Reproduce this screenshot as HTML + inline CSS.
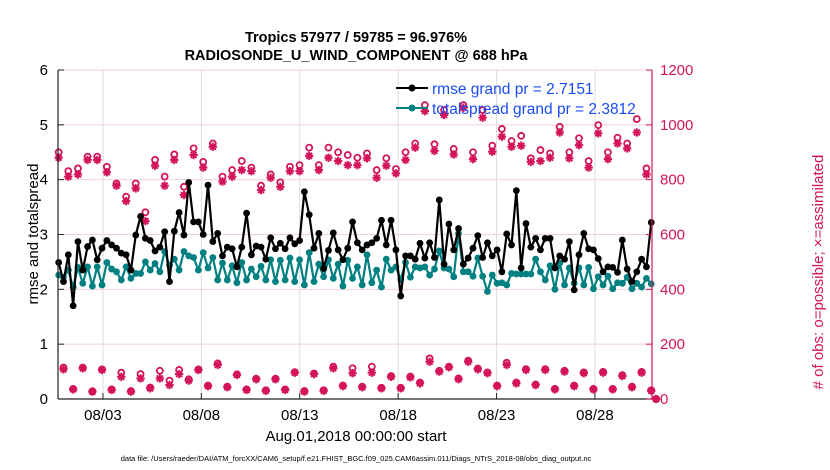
<!DOCTYPE html>
<html><head><meta charset="utf-8"><style>
html,body{margin:0;padding:0;background:#fff;}
svg{display:block;font-family:"Liberation Sans",sans-serif;}
</style></head><body>
<svg id="chart" width="830" height="470" viewBox="0 0 830 470" xmlns="http://www.w3.org/2000/svg">
<rect width="830" height="470" fill="#fff"/>
<text x="356" y="42" text-anchor="middle" font-size="14.5" font-weight="bold">Tropics 57977 / 59785 = 96.976%</text>
<text x="356" y="60" text-anchor="middle" font-size="14.5" font-weight="bold">RADIOSONDE_U_WIND_COMPONENT @ 688 hPa</text>
<g id="grid"></g>
<g id="obs"></g>
<g id="lines"></g>
<g id="axes"></g>
<g>
<line x1="396" y1="88" x2="428" y2="88" stroke="#000" stroke-width="2"/><circle cx="412" cy="88" r="3.5" fill="#000"/>
<text x="432" y="94" font-size="15.5" fill="#1a4cf5">rmse grand pr = 2.7151</text>
<line x1="396" y1="108" x2="428" y2="108" stroke="#008080" stroke-width="2"/><circle cx="412" cy="108" r="3.5" fill="#008080"/>
<text x="432" y="114" font-size="15.5" fill="#1a4cf5">totalspread grand pr = 2.3812</text>
</g>
<text transform="translate(38,234) rotate(-90)" text-anchor="middle" font-size="15">rmse and totalspread</text>
<text transform="translate(823,272) rotate(-90)" text-anchor="middle" font-size="15" fill="#d4145a"># of obs: o=possible; ×=assimilated</text>
<text x="356" y="441" text-anchor="middle" font-size="15">Aug.01,2018 00:00:00 start</text>
<text x="356" y="461" text-anchor="middle" font-size="7.5">data file: /Users/raeder/DAI/ATM_forcXX/CAM6_setup/f.e21.FHIST_BGC.f09_025.CAM6assim.011/Diags_NTrS_2018-08/obs_diag_output.nc</text>
</svg>
<script>
const rmse=[2.49,2.14,2.63,1.70,2.87,2.35,2.78,2.90,2.54,2.75,2.89,2.81,2.75,2.66,2.63,2.35,2.99,3.33,2.93,2.89,2.70,2.77,3.05,2.14,3.06,3.40,2.99,3.95,3.23,3.23,3.00,3.90,
2.87,3.02,2.61,2.77,2.74,2.41,2.77,3.39,2.63,2.79,2.77,2.55,2.94,2.74,2.84,2.74,2.94,2.83,2.89,3.78,3.36,2.75,3.02,2.38,2.71,3.03,2.72,2.54,2.75,3.23,
2.85,2.72,2.81,2.85,2.93,3.26,2.81,3.26,2.72,1.88,2.61,2.61,2.55,2.84,2.57,2.85,2.58,3.63,2.46,3.19,2.72,3.11,2.46,2.57,2.75,2.98,2.58,2.85,2.61,2.72,
2.32,3.01,2.81,3.80,2.39,3.20,2.77,2.93,2.72,2.93,2.93,2.39,2.61,2.55,2.87,1.99,2.63,3.02,2.74,2.72,2.56,2.32,2.41,2.40,2.31,2.90,2.37,2.14,2.32,2.55,2.41,3.22];
const spread=[2.26,2.22,2.35,2.04,2.40,2.11,2.41,2.06,2.41,2.08,2.49,2.37,2.32,2.17,2.41,2.20,2.29,2.29,2.50,2.35,2.47,2.32,2.69,2.44,2.55,2.35,2.69,2.61,2.58,2.35,2.67,2.39,
2.58,2.17,2.48,2.17,2.43,2.12,2.49,2.17,2.37,2.23,2.42,2.17,2.54,2.14,2.53,2.17,2.57,2.14,2.54,2.08,2.67,2.14,2.46,2.23,2.54,2.20,2.46,2.06,2.53,2.20,
2.41,2.08,2.63,2.12,2.35,2.04,2.55,2.35,2.41,2.18,2.49,2.22,2.41,2.39,2.41,2.26,2.37,2.70,2.39,2.37,2.23,3.02,2.32,2.32,2.24,2.57,2.24,1.96,2.26,2.11,
2.12,2.08,2.29,2.28,2.28,2.28,2.28,2.55,2.32,2.17,2.43,2.00,2.48,2.08,2.39,2.11,2.39,2.08,2.40,2.01,2.23,2.08,2.24,2.01,2.12,2.11,2.22,2.01,2.11,2.04,2.20,2.10];
// 00Z/12Z (large) and 06Z/18Z (small) observation counts
const possibleMain=[900,831,841,884,884,847,786,738,786,681,872,811,892,774,914,865,932,811,835,868,844,778,819,790,847,853,917,853,917,900,890,
880,896,835,878,839,900,932,1072,929,1054,912,1072,900,1054,924,985,941,960,878,908,896,993,900,951,868,999,900,953,932,1021,841,0];
const assimMain=[880,811,819,872,872,827,778,722,768,649,851,778,872,744,890,844,920,793,811,835,831,762,807,774,831,831,887,835,880,868,853,
853,878,807,851,823,872,917,1050,905,1036,892,1062,875,1026,902,957,920,924,865,868,880,972,878,926,844,969,875,932,914,972,819,0];
const possibleOff=[115,37,115,28,108,35,96,29,91,42,103,67,106,72,108,49,130,45,90,35,74,32,74,35,98,29,93,32,118,49,112,
45,118,41,84,41,82,60,148,103,118,75,140,111,97,49,132,60,109,53,109,37,103,49,97,37,99,37,87,45,99,32];
const assimOff=[108,35,112,27,106,33,81,27,75,39,75,51,91,67,106,47,124,43,88,33,72,30,72,33,96,27,91,30,112,47,94,
43,96,39,81,39,79,57,136,100,116,72,136,108,94,47,124,57,106,51,106,35,100,47,94,35,96,35,84,43,96,30];
const xTickDays=[2,7,12,17,22,27];
const xTickLabels=["08/03","08/08","08/13","08/18","08/23","08/28"];
const leftTicks=[0,1,2,3,4,5,6];
const rightTicks=[0,200,400,600,800,1000,1200];

const NS="http://www.w3.org/2000/svg";
const L=58,R=652,T=70,B=399;
const xS=d=>63.6+d*19.68;
const yL=v=>B-(v/6)*(B-T);
const yR=v=>B-(v/1200)*(B-T);
const tOf=i=>-0.25+i*0.2448;
function mk(tag,attrs,parent){const e=document.createElementNS(NS,tag);for(const k in attrs)e.setAttribute(k,attrs[k]);parent.appendChild(e);return e;}
const grid=document.getElementById('grid'),obs=document.getElementById('obs'),lines=document.getElementById('lines'),axes=document.getElementById('axes');
const CR="#d4145a";
xTickDays.forEach((d,i)=>{const g=mk('line',{x1:xS(d),x2:xS(d),y1:T,y2:B,stroke:"#dcdcdc","stroke-width":1},grid);

});
rightTicks.forEach(v=>{const g=mk('line',{x1:L,x2:R,y1:yR(v),y2:yR(v),stroke:"#f2cfdc","stroke-width":1},grid);

});
const poss=[],assim=[];
for(let k=0;k<possibleMain.length;k++){poss.push(possibleMain[k]);assim.push(assimMain[k]);if(k<possibleOff.length){poss.push(possibleOff[k]);assim.push(assimOff[k]);}}
poss.forEach((v,i)=>{const c=mk('circle',{cx:xS(tOf(i)),cy:yR(v),r:3,fill:"none",stroke:CR,"stroke-width":1.8},obs);

});
assim.forEach((v,i)=>{const x=xS(tOf(i)),y=yR(v),s=4.2;
const g=mk('g',{stroke:CR,"stroke-width":2},obs);


mk('line',{x1:x-s,x2:x+s,y1:y,y2:y},g);mk('line',{x1:x,x2:x,y1:y-s,y2:y+s},g);
mk('line',{x1:x-s*0.7,x2:x+s*0.7,y1:y-s*0.7,y2:y+s*0.7},g);mk('line',{x1:x-s*0.7,x2:x+s*0.7,y1:y+s*0.7,y2:y-s*0.7},g);});
function series(arr,col,name){
const p=mk('polyline',{points:arr.map((v,i)=>xS(tOf(i))+","+yL(v)).join(" "),fill:"none",stroke:col,"stroke-width":2.2,"stroke-linejoin":"round"},lines);


arr.forEach((v,i)=>{const c=mk('circle',{cx:xS(tOf(i)),cy:yL(v),r:3.4,fill:col},lines);

});}
series(spread,"#008080","totalspread");
series(rmse,"#000","rmse");
mk('line',{x1:L,x2:L,y1:T,y2:B,stroke:"#222","stroke-width":1.2},axes);
mk('line',{x1:L,x2:R,y1:B,y2:B,stroke:"#222","stroke-width":1.2},axes);
mk('line',{x1:R,x2:R,y1:T,y2:B,stroke:CR,"stroke-width":1.2},axes);
leftTicks.forEach(v=>{mk('line',{x1:L,x2:L+6,y1:yL(v),y2:yL(v),stroke:"#222"},axes);
const t=mk('text',{x:L-10,y:yL(v)+5,"text-anchor":"end","font-size":15},axes);t.textContent=v;

});
rightTicks.forEach(v=>{mk('line',{x1:R-6,x2:R,y1:yR(v),y2:yR(v),stroke:CR},axes);
const t=mk('text',{x:R+8,y:yR(v)+5,"font-size":15,fill:CR},axes);t.textContent=v;

});
xTickDays.forEach((d,i)=>{mk('line',{x1:xS(d),x2:xS(d),y1:B,y2:B-6,stroke:"#222"},axes);
const t=mk('text',{x:xS(d),y:B+21,"text-anchor":"middle","font-size":15},axes);t.textContent=xTickLabels[i];

});
</script>
</body></html>
